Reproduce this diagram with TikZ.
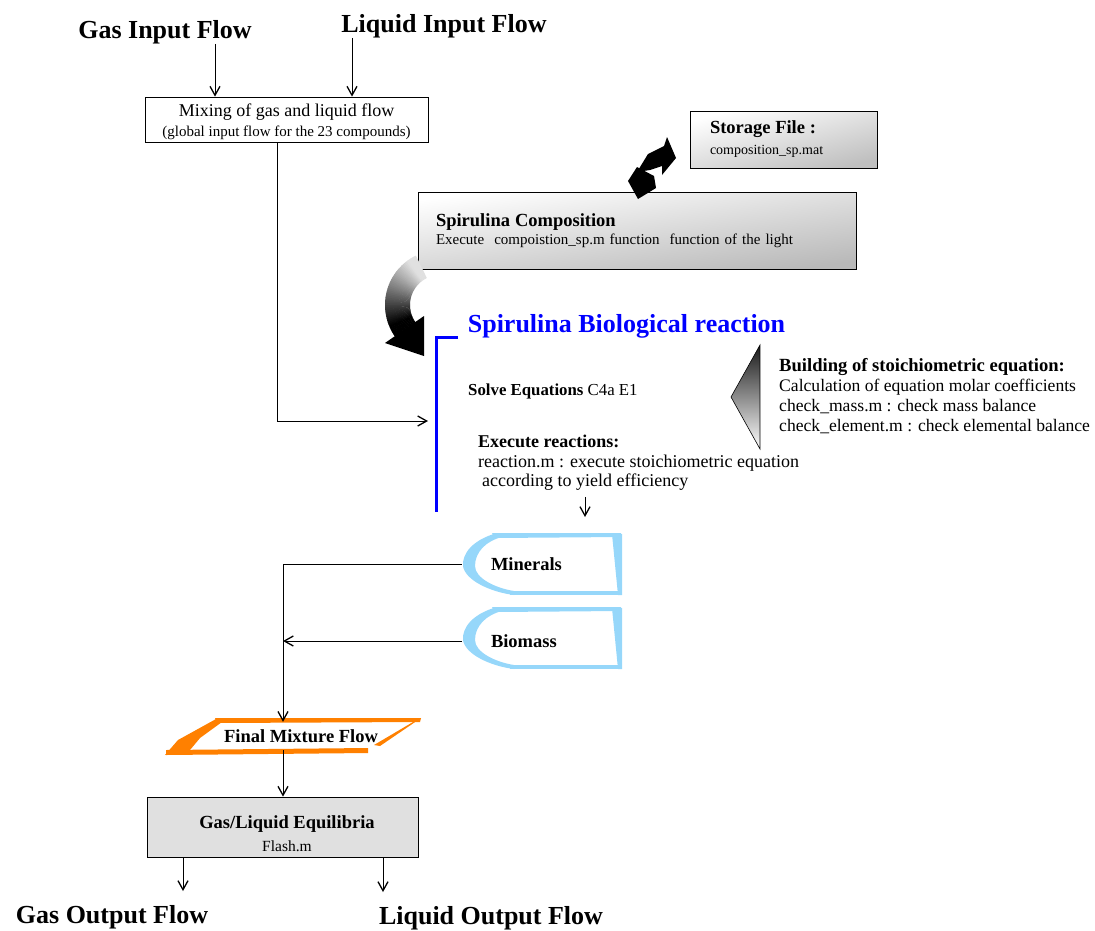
\documentclass[tikz,border=0pt]{standalone}
\usepackage{fontspec}
\setmainfont{Liberation Serif}
\usetikzlibrary{arrows.meta,calc}
\definecolor{spblue}{RGB}{0,0,255}
\definecolor{tabblue}{RGB}{150,215,250}
\definecolor{mixorange}{RGB}{255,128,0}
\begin{document}
\begin{tikzpicture}[x=1pt,y=-1pt,
  title/.style={font=\fontsize{26}{28}\selectfont\bfseries, inner sep=0pt},
  conn/.style={draw=black, line width=0.8pt},
  arr/.style={conn, -{Straight Barb[length=9pt,width=10pt,line width=1.3pt]}},
  boxline/.style={draw=black, line width=0.8pt},
  label/.style={inner sep=0pt, align=left},
  tabtext/.style={inner xsep=29pt, text width=102pt, minimum height=58pt, align=left,
                  font=\fontsize{18.5}{20}\selectfont\bfseries},
]
\useasboundingbox (0,0) rectangle (1095,930);

% ---- titles ----
\node[title] (gasin)  at (165,32)  {Gas Input Flow};
\node[title] (liqin)  at (444,26)  {Liquid Input Flow};
\node[title] (gasout) at (112,917) {Gas Output Flow};
\node[title] (liqout) at (491,918) {Liquid Output Flow};

% ---- guide coordinates for vertical connectors ----
\coordinate (xg)  at (215,0);
\coordinate (xl)  at (352,0);
\coordinate (xm)  at (277,0);
\coordinate (xv)  at (283,0);
\coordinate (xe)  at (585,0);
\coordinate (go1) at (183,891);
\coordinate (go2) at (383,892);
\coordinate (solveIn) at (428,421);
\coordinate (exeTip)  at (585,517);

% ---- mixing box ----
\node[boxline, minimum width=283pt, minimum height=45pt] (mix) at (286.5,119.5) {};
\node[align=center, inner sep=0pt, font=\fontsize{18}{20}\selectfont] (mixtext) at (286.5,122)
  {Mixing of gas and liquid flow\\
   {\fontsize{15}{20}\selectfont (global input flow for the 23 compounds)}};

\draw[arr] (gasin.south -| xg) -- (mix.north -| xg);
\draw[arr] (liqin.south -| xl) -- (mix.north -| xl);
\draw[arr] (mix.south -| xm) |- (solveIn);

% ---- storage file ----
\node[boxline, top color=white, bottom color=gray!50, shading angle=15,
      minimum width=187pt, minimum height=57pt, text width=147pt, inner xsep=20pt, align=left,
      font=\fontsize{14}{21}\selectfont] (store) at (783.5,139.5)
  {\textbf{\fontsize{18.5}{21}\selectfont Storage File :}\\composition\_sp.mat};

% ---- spirulina composition ----
\node[boxline, top color=white, bottom color=gray!55, shading angle=8,
      minimum width=438pt, minimum height=77pt, text width=402pt, inner xsep=18pt, align=left,
      font=\fontsize{15}{18}\selectfont] (comp) at (637,230.5)
  {\textbf{\fontsize{18.5}{18}\selectfont Spirulina Composition}\\
   Execute\ \ compoistion\_sp.m function\ \ function of the light};

% ---- exchange arrows between composition and storage ----
\fill[black] (637,172) -- (648,154) -- (664,146) -- (667,137) -- (676,158) -- (662,175) -- (662,166) -- (650,170) -- cycle;
\fill[black] (628,181) -- (637,167) -- (654,176) -- (656,188) -- (638,199) -- cycle;

% ---- shaded curved arrow into the reaction block ----
\foreach \a in {116,118,...,214}{
  \pgfmathsetmacro\bk{min(100,12+max(0,\a-125)*1.15)}
  \pgfmathsetmacro\angb{\a+2.6}
  \pgfmathsetmacro\xa{440+55*cos(\a)}\pgfmathsetmacro\ya{305-55*sin(\a)}
  \pgfmathsetmacro\xb{440+55*cos(\angb)}\pgfmathsetmacro\yb{305-55*sin(\angb)}
  \pgfmathsetmacro\xc{440+30*cos(\angb)}\pgfmathsetmacro\yc{305-30*sin(\angb)}
  \pgfmathsetmacro\xd{440+30*cos(\a)}\pgfmathsetmacro\yd{305-30*sin(\a)}
  \fill[black!\bk] (\xa,\ya) -- (\xb,\yb) -- (\xc,\yc) -- (\xd,\yd) -- cycle;
}
\fill[black] (385,343) -- (424,356) -- (424,316) -- cycle;

% ---- biological reaction block ----
\coordinate (brTop) at (458,337);
\coordinate (brBot) at (436,512);
\draw[spblue, line width=3pt] (brTop) -| (brBot);
\node[inner sep=0pt, text=spblue, font=\fontsize{26}{28}\selectfont\bfseries] (biotitle) at (626.5,326)
  {Spirulina Biological reaction};
\node[label, anchor=west, font=\fontsize{16.8}{20}\selectfont] (solve) at (468,391)
  {\textbf{Solve Equations} C4a E1};
\node[label, anchor=north west, font=\fontsize{18}{19.5}\selectfont] (exec) at (478,435)
  {\textbf{Execute reactions:}\\reaction.m : execute stoichiometric equation\\\hspace*{4pt}according to yield efficiency};
\draw[arr] ([yshift=-6pt]exec.south -| xe) -- (exeTip);

% ---- stoichiometric equation builder ----
\shadedraw[top color=black!90, bottom color=white, draw=black, line width=0.6pt]
  (760,345) -- (731,397) -- (760,449) -- cycle;
\node[label, anchor=north west, font=\fontsize{17.6}{20}\selectfont] (build) at (779,358)
  {\textbf{\fontsize{18.6}{20}\selectfont Building of stoichiometric equation:}\\Calculation of equation molar coefficients\\check\_mass.m : check mass balance\\check\_element.m : check elemental balance};

% ---- product tabs ----
\foreach \dy in {0,74}{
  \begin{scope}[shift={(0,\dy)}]
    \fill[tabblue] (492,533) -- (621,533) -- (621,537) -- (495,538) -- cycle;
    \fill[tabblue] (612,534) -- (622,534) -- (622,595) -- (618,595) -- cycle;
    \fill[tabblue] (510,591) -- (621,591) -- (621,595) -- (510,595) -- cycle;
    \fill[tabblue] (497,533) .. controls (472,540) and (462,554) .. (463,566)
                   .. controls (465,580) and (490,592) .. (514,595)
                   -- (514,591) .. controls (495,588) and (475,578) .. (475,566)
                   .. controls (475,552) and (486,541) .. (502,537) -- cycle;
  \end{scope}
}
\node[tabtext] (minerals) at (542,564) {Minerals};
\node[tabtext] (biomass) at (542,641) {Biomass};

% ---- final mixture ----
\node[minimum width=200pt, minimum height=28pt, inner sep=0pt,
      font=\fontsize{18.5}{20}\selectfont\bfseries] (final) at (301,736) {Final Mixture Flow};
\fill[mixorange] (215,718) -- (421,718) -- (420,722) -- (217,723) -- cycle;
\fill[mixorange] (421,718) -- (380,746) -- (374,745) -- (413,722) -- cycle;
\fill[mixorange] (166,750) -- (368,748) -- (368,753) -- (166,755) -- cycle;
\fill[mixorange] (165,755) -- (178,740) -- (216,719) -- (222,722) -- (200,738) -- (190,750) -- cycle;

\draw[arr] (minerals.west) -| (final.north -| xv);
\draw[arr] (biomass.west) -- (biomass.west -| xv);

% ---- gas/liquid equilibria ----
\node[boxline, fill=gray!24, minimum width=271pt, minimum height=60pt] (gl) at (282.5,827) {};
\node[align=center, inner sep=0pt, font=\fontsize{15.5}{23}\selectfont] (gltext) at (287,834)
  {\textbf{\fontsize{18.5}{23}\selectfont Gas/Liquid Equilibria}\\Flash.m};
\draw[arr] (final.south -| xv) -- (gl.north -| xv);
\draw[arr] (gl.south -| go1) -- (go1);
\draw[arr] (gl.south -| go2) -- (go2);
\end{tikzpicture}
\end{document}
